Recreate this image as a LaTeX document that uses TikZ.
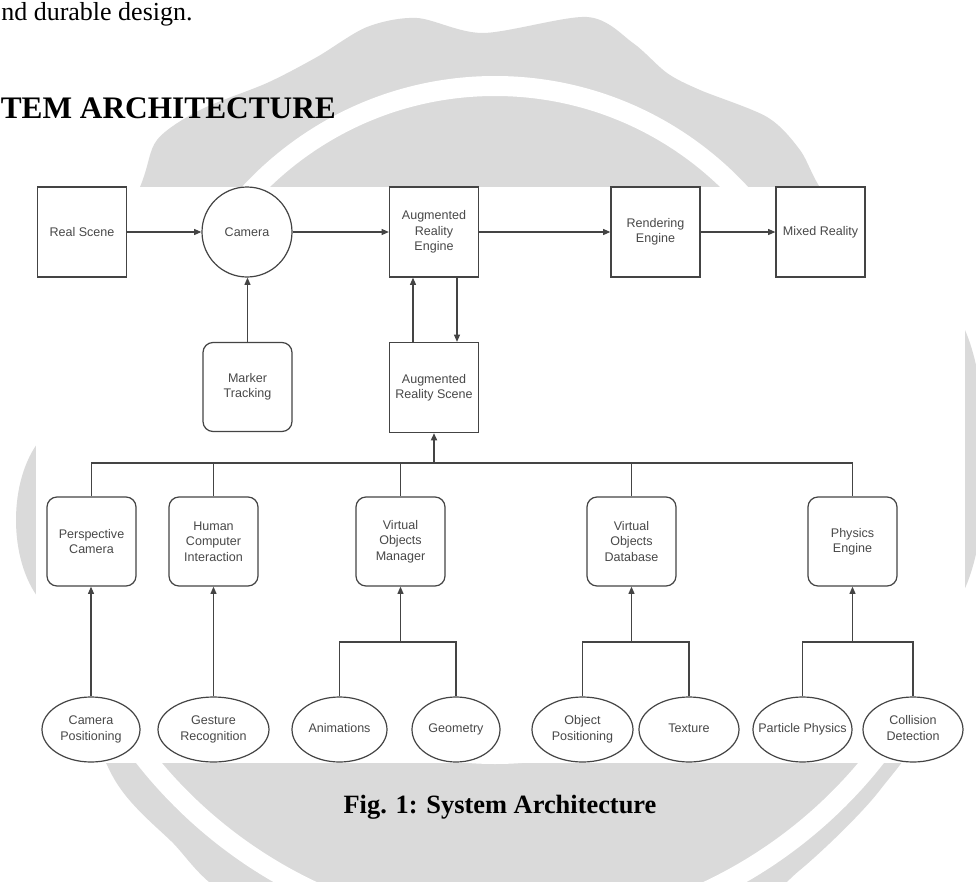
\documentclass[tikz,border=0pt]{standalone}
\usepackage{fontspec}
\setmainfont{Liberation Serif}
\newfontfamily\diagfont{Liberation Sans}
\usetikzlibrary{arrows.meta,shapes.geometric,calc}

\definecolor{wmgray}{RGB}{218,218,218}
\definecolor{edge}{RGB}{68,68,68}
\definecolor{labelgray}{RGB}{72,72,72}

% two-line label of zero width, so the ellipse keeps its own size
\newcommand\ovallabel[1]{\makebox[0pt]{\begin{tabular}{@{}c@{}}#1\end{tabular}}}

\begin{document}
\begin{tikzpicture}[x=0.75pt,y=-0.75pt,
  base/.style={draw=edge, line width=0.9pt, fill=white,
    font=\diagfont\fontsize{9.4}{11.6}\selectfont, text=labelgray,
    align=center, inner sep=0pt},
  sqbox/.style={base, rectangle, minimum width=66.75pt, minimum height=67.5pt},
  rbox/.style={base, rectangle, rounded corners=7.5pt,
    minimum width=66.75pt, minimum height=66.75pt},
  circ/.style={base, circle, minimum size=67.5pt},
  oval/.style={base, ellipse, minimum height=48.75pt, minimum width=#1*0.75pt},
  link/.style={draw=edge, line width=0.9pt},
  arr/.style={link, -{Triangle[length=5.5pt,width=4.5pt]}},
]
\useasboundingbox (0,0) rectangle (976,882);
\fill[white] (0,0) rectangle (976,882);

% watermark emblem behind the figure
\fill[wmgray] plot[smooth cycle, tension=0.5] coordinates {
  (140,187) (157,140) (200,110) (267,83) (317,57) (367,27) (417,18)
  (483,33) (587,17) (633,43) (667,73) (700,90) (767,117) (800,150)
  (830,200) (915,262) (950,460) (930,700)
  (880,790) (800,870) (740,905) (500,950) (250,905) (170,840)
  (112,775) (70,650) (55,450) (90,300)};
% side lobes of the emblem
\fill[wmgray] (40,440) .. controls (8,480) and (8,560) .. (40,600) -- cycle;
\fill[wmgray] (960,320) .. controls (994,380) and (994,540) .. (960,598) -- cycle;
\draw[white, line width=15pt] (495,420) circle[radius=334];
\begin{scope}
  \clip (0,763) rectangle (976,882);
  \draw[white, line width=15pt] (510,470) circle[radius=465];
\end{scope}

% figure area
\fill[white] (36,187) rectangle (965,763);

% text around the figure
\node[anchor=base west, inner sep=0pt, font=\fontsize{19.5}{23}\selectfont]
  (intro) at (1,20.5) {nd durable design.};
\node[anchor=base west, inner sep=0pt, font=\bfseries\fontsize{23.5}{28}\selectfont]
  (heading) at (0.5,118) {TEM ARCHITECTURE};
\node[anchor=base, inner sep=0pt, font=\bfseries\fontsize{19.8}{24}\selectfont]
  (caption) at (500,813) {Fig. 1: System Architecture};

% top pipeline
\node[sqbox] (rs)  at (82,232)    {Real Scene};
\node[circ]  (cam) at (247,232)   {Camera};
\node[sqbox] (are) at (434,232)   {Augmented\\Reality\\Engine};
\node[sqbox] (ren) at (655.5,232) {Rendering\\Engine};
\node[sqbox] (mr)  at (820.5,232) {Mixed Reality};
\node[rbox]  (mt)  at (247.5,387) {Marker\\Tracking};
\node[sqbox] (ars) at (434,387.5) {Augmented\\Reality Scene};

% middle layer
\node[rbox] (persp) at (91.5,541.5)  {Perspective\\Camera};
\node[rbox] (hci)   at (213.5,541.5) {Human\\Computer\\Interaction};
\node[rbox] (vom)   at (400.5,541.5) {Virtual\\Objects\\Manager};
\node[rbox] (vodb)  at (631.5,541.5) {Virtual\\Objects\\Database};
\node[rbox] (pe)    at (852.5,541.5) {Physics\\Engine};

% bottom layer
\node[oval=98]  (cpos) at (91,729.5)    {\ovallabel{Camera\\Positioning}};
\node[oval=111] (gest) at (213.5,729.5) {\ovallabel{Gesture\\Recognition}};
\node[oval=95]  (anim) at (339.5,729.5) {\ovallabel{Animations}};
\node[oval=88]  (geom) at (456,729.5)   {\ovallabel{Geometry}};
\node[oval=101] (opos) at (582.5,729.5) {\ovallabel{Object\\Positioning}};
\node[oval=100] (tex)  at (689,729.5)   {\ovallabel{Texture}};
\node[oval=99]  (pp)   at (802.5,729.5) {\ovallabel{Particle Physics}};
\node[oval=100] (cd)   at (913,729.5)   {\ovallabel{Collision\\Detection}};

% pipeline connectors
\draw[arr] (rs) -- (cam);
\draw[arr] (cam) -- (are);
\draw[arr] (are) -- (ren);
\draw[arr] (ren) -- (mr);
\draw[arr] (mt.north) -- (mt.north |- cam.south);
\draw[arr] ($(ars.north)+(-21,0)$) -- ($(are.south)+(-21,0)$);
\draw[arr] ($(are.south)+(23,0)$) -- ($(ars.north)+(23,0)$);

% bus joining the middle layer to the scene
\coordinate (busL) at (91.5,463);
\coordinate (busR) at (852.5,463);
\draw[link] (persp.north) |- (busR) -- (pe.north);
\draw[link] (hci.north) -- (hci.north |- busL);
\draw[link] (vom.north) -- (vom.north |- busL);
\draw[link] (vodb.north) -- (vodb.north |- busL);
\draw[arr, line width=1.4pt] (ars.south |- busL) -- (ars.south);

% bottom layer into middle layer
\draw[arr] (cpos.north) -- (cpos.north |- persp.south);
\draw[arr] (gest.north) -- (gest.north |- hci.south);

\coordinate (vomj)  at (400.5,642);
\coordinate (vodbj) at (631.5,642);
\coordinate (pej)   at (852.5,642);
\draw[link] (anim.north) |- (vomj) -| (geom.north);
\draw[arr] (vomj) -- (vom.south);
\draw[link] (opos.north) |- (vodbj) -| (tex.north);
\draw[arr] (vodbj) -- (vodb.south);
\draw[link] (pp.north) |- (pej) -| (cd.north);
\draw[arr] (pej) -- (pe.south);
\end{tikzpicture}
\end{document}
